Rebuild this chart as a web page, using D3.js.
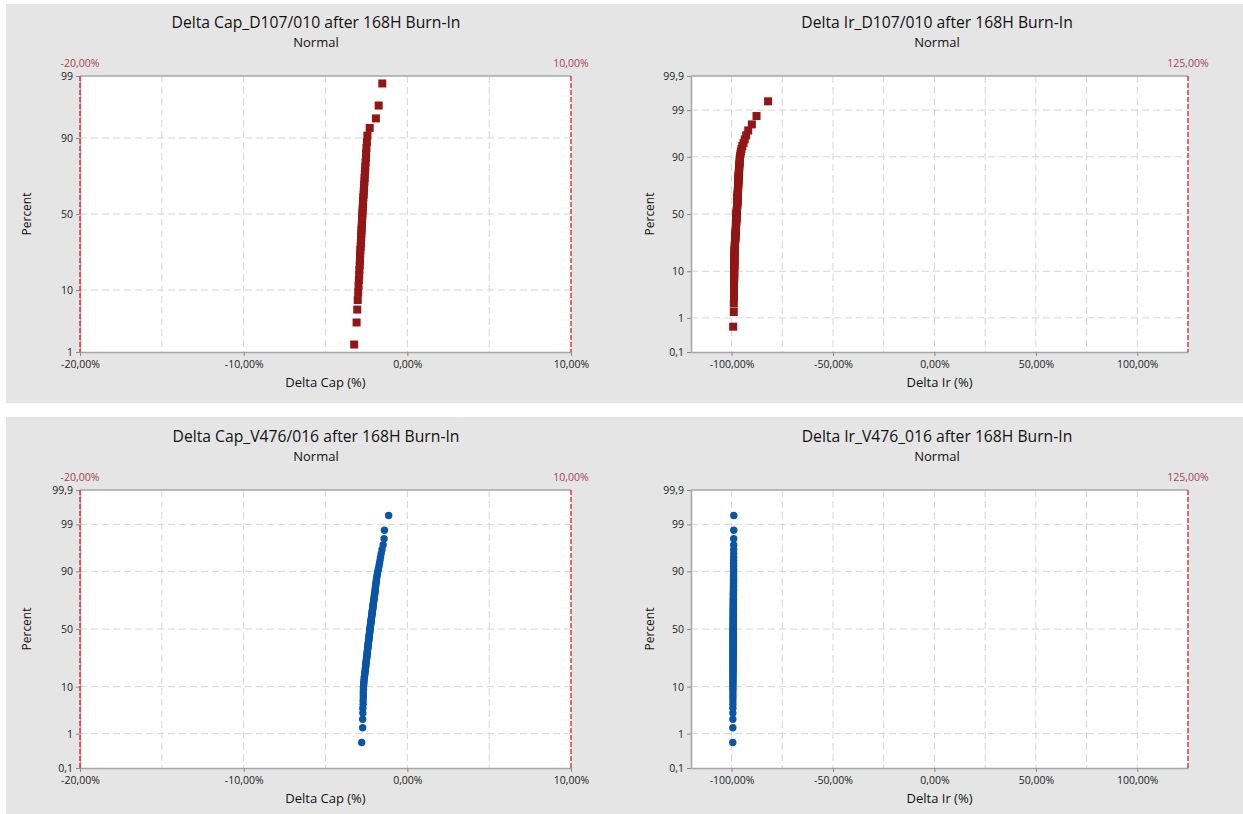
<!DOCTYPE html>
<html>
<head>
<meta charset="utf-8">
<script src="https://cdn.jsdelivr.net/npm/d3@7"></script>
<style>
  body { margin: 0; background: #fff; }
  svg { display: block; font-family: "Open Sans", "Noto Sans", sans-serif; }
</style>
</head>
<body>
<svg id="chart" width="1243" height="814"></svg>
<script>
// panel titles
const titles = [
  "Delta Cap_D107/010 after 168H Burn-In",
  "Delta Ir_D107/010 after 168H Burn-In",
  "Delta Cap_V476/016 after 168H Burn-In",
  "Delta Ir_V476_016 after 168H Burn-In"
];

// x axis ticks, grid and spec limits
const capDomain = [-20, 10];
const capTicks = [-20, -10, 0, 10];
const capGrid = [-15, -10, -5, 0, 5];
const capSpecs = [-20, 10];
const irDomain = [-120, 125];
const irTicks = [-100, -50, 0, 50, 100];
const irGrid = [-100, -75, -50, -25, 0, 25, 50, 75, 100];
const irSpecs = [125];

// percent axis ticks
const pctTicksShort = [1, 10, 50, 90, 99];
const pctTicksLong = [0.1, 1, 10, 50, 90, 99, 99.9];

const capD107 = [
  -3.25, -3.10, -3.06, -3.03, -3.00, -2.98, -2.96, -2.94, -2.93, -2.91,
  -2.90, -2.89, -2.88, -2.87, -2.85, -2.84, -2.83, -2.82, -2.81, -2.80,
  -2.79, -2.78, -2.77, -2.76, -2.75, -2.74, -2.73, -2.72, -2.71, -2.70,
  -2.69, -2.67, -2.66, -2.65, -2.64, -2.62, -2.61, -2.60, -2.58, -2.57,
  -2.55, -2.53, -2.52, -2.50, -2.47, -2.44, -2.30, -1.92, -1.75, -1.53
];

const irD107 = [
  -99.2, -98.9, -98.9, -98.8, -98.8, -98.8, -98.8, -98.8, -98.7, -98.7,
  -98.7, -98.7, -98.7, -98.7, -98.6, -98.6, -98.6, -98.6, -98.6, -98.6,
  -98.6, -98.6, -98.5, -98.5, -98.5, -98.5, -98.4, -98.4, -98.4, -98.4,
  -98.3, -98.3, -98.3, -98.2, -98.2, -98.2, -98.1, -98.1, -98.1, -98.0,
  -98.0, -98.0, -97.9, -97.9, -97.9, -97.8, -97.8, -97.8, -97.8, -97.8,
  -97.8, -97.7, -97.7, -97.7, -97.7, -97.6, -97.6, -97.6, -97.6, -97.5,
  -97.5, -97.5, -97.4, -97.4, -97.4, -97.3, -97.3, -97.3, -97.3, -97.2,
  -97.2, -97.2, -97.2, -97.1, -97.1, -97.1, -97.1, -97.0, -97.0, -97.0,
  -97.0, -96.9, -96.9, -96.9, -96.9, -96.8, -96.8, -96.8, -96.8, -96.7,
  -96.7, -96.7, -96.7, -96.6, -96.6, -96.6, -96.5, -96.5, -96.4, -96.4,
  -96.3, -96.3, -96.2, -96.2, -96.1, -96.0, -96.0, -95.9, -95.8, -95.6,
  -95.4, -95.1, -94.7, -94.1, -93.5, -92.8, -91.8, -90.0, -87.7, -82.0
];

const capV476 = [
  -2.79, -2.73, -2.73, -2.72, -2.72, -2.70, -2.70, -2.69, -2.69, -2.69,
  -2.68, -2.68, -2.67, -2.66, -2.65, -2.64, -2.63, -2.62, -2.60, -2.59,
  -2.58, -2.57, -2.56, -2.55, -2.54, -2.53, -2.53, -2.52, -2.51, -2.50,
  -2.49, -2.48, -2.47, -2.47, -2.46, -2.45, -2.44, -2.44, -2.43, -2.42,
  -2.41, -2.41, -2.40, -2.39, -2.39, -2.38, -2.37, -2.36, -2.36, -2.35,
  -2.34, -2.34, -2.33, -2.32, -2.32, -2.31, -2.30, -2.30, -2.29, -2.28,
  -2.28, -2.27, -2.26, -2.25, -2.25, -2.24, -2.23, -2.22, -2.22, -2.21,
  -2.20, -2.19, -2.19, -2.18, -2.17, -2.16, -2.15, -2.15, -2.14, -2.13,
  -2.12, -2.11, -2.10, -2.10, -2.09, -2.08, -2.07, -2.06, -2.05, -2.04,
  -2.03, -2.02, -2.01, -2.00, -1.99, -1.98, -1.97, -1.96, -1.95, -1.94,
  -1.93, -1.92, -1.90, -1.89, -1.88, -1.86, -1.84, -1.82, -1.79, -1.76,
  -1.73, -1.70, -1.67, -1.64, -1.60, -1.55, -1.48, -1.42, -1.40, -1.14
];

const irV476 = [
  -99.40, -99.38, -99.37, -99.36, -99.35, -99.35, -99.34, -99.34, -99.33, -99.33,
  -99.33, -99.32, -99.32, -99.32, -99.31, -99.31, -99.31, -99.30, -99.30, -99.30,
  -99.30, -99.29, -99.29, -99.29, -99.29, -99.28, -99.28, -99.28, -99.28, -99.27,
  -99.27, -99.27, -99.27, -99.26, -99.26, -99.26, -99.26, -99.25, -99.25, -99.25,
  -99.25, -99.25, -99.24, -99.24, -99.24, -99.24, -99.23, -99.23, -99.23, -99.23,
  -99.23, -99.22, -99.22, -99.22, -99.22, -99.21, -99.21, -99.21, -99.21, -99.20,
  -99.20, -99.20, -99.20, -99.19, -99.19, -99.19, -99.19, -99.18, -99.18, -99.18,
  -99.18, -99.17, -99.17, -99.17, -99.16, -99.16, -99.16, -99.15, -99.15, -99.15,
  -99.14, -99.14, -99.14, -99.13, -99.13, -99.12, -99.12, -99.12, -99.11, -99.11,
  -99.10, -99.10, -99.09, -99.09, -99.08, -99.08, -99.07, -99.07, -99.06, -99.06,
  -99.05, -99.05, -99.04, -99.04, -99.03, -99.03, -99.02, -99.02, -99.01, -99.01,
  -99.00, -99.00, -98.99, -98.98, -98.97, -98.96, -98.95, -98.94, -98.92, -98.90
];

const red = '#921616';
const blue = '#0b55a6';

// inverse standard normal (Acklam)
function qnorm(p) {
  const a = [-3.969683028665376e+01, 2.209460984245205e+02, -2.759285104469687e+02, 1.383577518672690e+02, -3.066479806614716e+01, 2.506628277459239e+00];
  const b = [-5.447609879822406e+01, 1.615858368580409e+02, -1.556989798598866e+02, 6.680131188771972e+01, -1.328068155288572e+01];
  const c = [-7.784894002430293e-03, -3.223964580411365e-01, -2.400758277161838e+00, -2.549732539343734e+00, 4.374664141464968e+00, 2.938163982698783e+00];
  const d = [7.784695709041462e-03, 3.224671290700398e-01, 2.445134137142996e+00, 3.754408661907416e+00];
  const pl = 0.02425;
  if (p < pl) {
    const q = Math.sqrt(-2 * Math.log(p));
    return (((((c[0]*q+c[1])*q+c[2])*q+c[3])*q+c[4])*q+c[5]) / ((((d[0]*q+d[1])*q+d[2])*q+d[3])*q+1);
  }
  if (p > 1 - pl) {
    const q = Math.sqrt(-2 * Math.log(1 - p));
    return -(((((c[0]*q+c[1])*q+c[2])*q+c[3])*q+c[4])*q+c[5]) / ((((d[0]*q+d[1])*q+d[2])*q+d[3])*q+1);
  }
  const q = p - 0.5, r = q * q;
  return (((((a[0]*r+a[1])*r+a[2])*r+a[3])*r+a[4])*r+a[5])*q / (((((b[0]*r+b[1])*r+b[2])*r+b[3])*r+b[4])*r+1);
}

const fmtPct = d => (d < 0 ? '-' : '') + Math.abs(d).toFixed(2).replace('.', ',') + '%';
const fmtNum = d => String(d).replace('.', ',');

const panels = [
  { title: titles[0], data: capD107, xDomain: capDomain, xTicks: capTicks, xGrid: capGrid, specs: capSpecs,
    pct: pctTicksShort, shape: 'square', color: red, xLabel: 'Delta Cap (%)',
    x0: 80, x1: 571, y0: 76, y1: 352, titleX: 316, percentX: 27 },
  { title: titles[1], data: irD107, xDomain: irDomain, xTicks: irTicks, xGrid: irGrid, specs: irSpecs,
    pct: pctTicksLong, shape: 'square', color: red, xLabel: 'Delta Ir (%)',
    x0: 691, x1: 1188, y0: 76, y1: 352, titleX: 937, percentX: 650 },
  { title: titles[2], data: capV476, xDomain: capDomain, xTicks: capTicks, xGrid: capGrid, specs: capSpecs,
    pct: pctTicksLong, shape: 'circle', color: blue, xLabel: 'Delta Cap (%)',
    x0: 80, x1: 571, y0: 490, y1: 768, titleX: 316, percentX: 27 },
  { title: titles[3], data: irV476, xDomain: irDomain, xTicks: irTicks, xGrid: irGrid, specs: irSpecs,
    pct: pctTicksLong, shape: 'circle', color: blue, xLabel: 'Delta Ir (%)',
    x0: 691, x1: 1188, y0: 490, y1: 768, titleX: 937, percentX: 650 }
];

const svg = d3.select('#chart');

// gray panel backgrounds
svg.append('rect').attr('x', 6).attr('y', 4).attr('width', 1237).attr('height', 399).attr('fill', '#e5e5e5');
svg.append('rect').attr('x', 6).attr('y', 417).attr('width', 1237).attr('height', 397).attr('fill', '#e5e5e5');

panels.forEach(p => {
  const x = d3.scaleLinear().domain(p.xDomain).range([p.x0, p.x1]);
  const zLo = qnorm(p.pct[0] / 100);
  const zHi = qnorm(p.pct[p.pct.length - 1] / 100);
  const y = d3.scaleLinear().domain([zLo, zHi]).range([p.y1, p.y0]);
  const g = svg.append('g');

  // titles
  g.append('text')
    .attr('x', p.titleX)
    .attr('y', p.y0 - 48)
    .attr('text-anchor', 'middle')
    .attr('fill', '#111')
    .style('font-size', '15.7px')
    .text(p.title);

  g.append('text')
    .attr('x', p.titleX)
    .attr('y', p.y0 - 29)
    .attr('text-anchor', 'middle')
    .attr('fill', '#111')
    .style('font-size', '13px')
    .text('Normal');

  // plot area
  g.append('rect')
    .attr('x', p.x0).attr('y', p.y0)
    .attr('width', p.x1 - p.x0).attr('height', p.y1 - p.y0)
    .attr('fill', '#fff');

  // grid
  g.selectAll('.vgrid')
    .data(p.xGrid)
    .join('line')
    .attr('x1', d => x(d)).attr('x2', d => x(d))
    .attr('y1', p.y0).attr('y2', p.y1)
    .attr('stroke', '#d6d6d6')
    .attr('stroke-dasharray', '7,4');

  g.selectAll('.hgrid')
    .data(p.pct.slice(1, -1))
    .join('line')
    .attr('x1', p.x0).attr('x2', p.x1)
    .attr('y1', d => y(qnorm(d / 100))).attr('y2', d => y(qnorm(d / 100)))
    .attr('stroke', '#d6d6d6')
    .attr('stroke-dasharray', '7,4');

  // top frame
  g.append('line')
    .attr('x1', p.x0).attr('x2', p.x1)
    .attr('y1', p.y0).attr('y2', p.y0)
    .attr('stroke', '#a6a6a6')
    .attr('stroke-width', 1.5);

  // axes
  const xAxis = g.append('g')
    .attr('transform', `translate(0,${p.y1})`)
    .call(d3.axisBottom(x).tickValues(p.xTicks).tickSize(4).tickSizeOuter(0).tickPadding(5).tickFormat(fmtPct));

  const yAxis = g.append('g')
    .attr('transform', `translate(${p.x0},0)`)
    .call(d3.axisLeft(y).tickValues(p.pct.map(v => qnorm(v / 100))).tickSize(4).tickSizeOuter(0).tickPadding(3)
      .tickFormat((d, i) => fmtNum(p.pct[i])));

  [xAxis, yAxis].forEach(a => {
    a.attr('font-family', null).attr('font-size', null);
    a.select('.domain').attr('stroke', '#a6a6a6').attr('stroke-width', 1.5);
    a.selectAll('.tick line').attr('stroke', '#8a8a8a');
    a.selectAll('.tick text').attr('fill', '#222').style('font-size', '10.5px');
  });

  // spec limit lines
  p.specs.forEach(s => {
    g.append('line')
      .attr('x1', x(s)).attr('x2', x(s))
      .attr('y1', p.y0).attr('y2', p.y1)
      .attr('stroke', '#e03a3a')
      .attr('stroke-width', 1.5)
      .attr('stroke-dasharray', '5,2');

    g.append('text')
      .attr('x', x(s))
      .attr('y', p.y0 - 9)
      .attr('text-anchor', 'middle')
      .attr('fill', '#a5424f')
      .style('font-size', '10.5px')
      .text(fmtPct(s));
  });

  // points at median-rank plotting positions
  const n = p.data.length;
  const pts = p.data.map((v, i) => ({ v, z: qnorm((i + 1 - 0.3) / (n + 0.4)) }));

  if (p.shape === 'square') {
    g.selectAll('.pt')
      .data(pts)
      .join('rect')
      .attr('x', d => x(d.v) - 4)
      .attr('y', d => y(d.z) - 4)
      .attr('width', 8).attr('height', 8)
      .attr('fill', p.color);
  } else {
    g.selectAll('.pt')
      .data(pts)
      .join('circle')
      .attr('cx', d => x(d.v))
      .attr('cy', d => y(d.z))
      .attr('r', 3.7)
      .attr('fill', p.color);
  }

  // axis labels
  g.append('text')
    .attr('x', (p.x0 + p.x1) / 2)
    .attr('y', p.y1 + 35)
    .attr('text-anchor', 'middle')
    .attr('fill', '#111')
    .style('font-size', '13px')
    .text(p.xLabel);

  g.append('text')
    .attr('transform', `translate(${p.percentX},${(p.y0 + p.y1) / 2}) rotate(-90)`)
    .attr('dy', '0.35em')
    .attr('text-anchor', 'middle')
    .attr('fill', '#111')
    .style('font-size', '12px')
    .text('Percent');
});
</script>
</body>
</html>
